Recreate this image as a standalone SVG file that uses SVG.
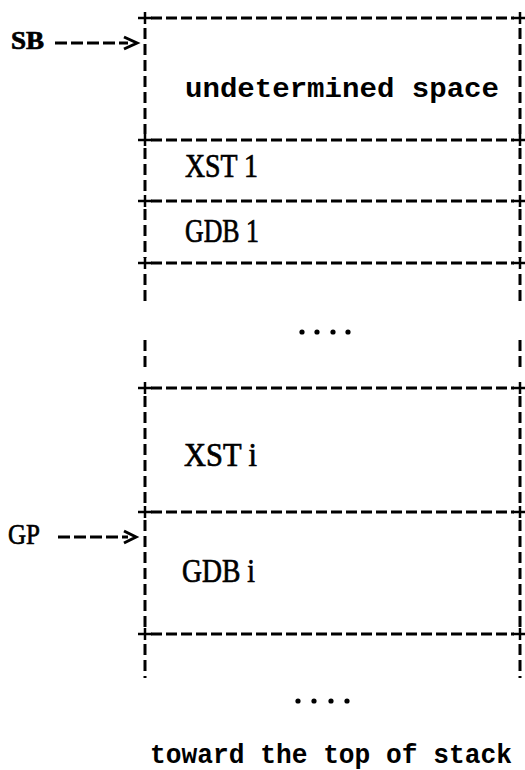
<svg xmlns="http://www.w3.org/2000/svg" width="525" height="770" viewBox="0 0 525 770">
<style>
.h{stroke:#000;stroke-width:3;stroke-dasharray:11 4;fill:none}
.v{stroke:#000;stroke-width:3;stroke-dasharray:11 5;fill:none}
.p{stroke:#000;stroke-width:2.5;fill:none}
.lbl{font-family:"Liberation Serif",serif;fill:#000;stroke:#000;stroke-width:0.7}
.mono{font-family:"Liberation Mono",monospace;font-weight:bold;fill:#000}
</style>
<rect width="525" height="770" fill="#fff"/>
<g id="frame">
<path class="h" d="M151 18H514M151 140H514M151 201H514M151 263H514M151 388H514M151 512H514M151 634H514"/>
<path class="p" d="M138 18H152M145 12V24M513 18H526M520 12V24M138 140H152M145 134V146M513 140H526M520 134V146M138 201H152M145 195V207M513 201H526M520 195V207M138 263H152M145 257V269M513 263H526M520 257V269M138 388H152M145 382V394M513 388H526M520 382V394M138 512H152M145 506V518M513 512H526M520 506V518M138 634H152M145 628V640M513 634H526M520 628V640"/>
<path class="v" d="M145 28V134M520 28V134M145 148V196M520 148V196M145 209V258M520 209V258M145 274V306M520 274V306M145 340V372M520 340V372M145 396V506M520 396V506M145 520V628M520 520V628M145 644V678M520 644V678"/>
</g>
<g id="undetermined">
<text class="mono" x="185" y="97" font-size="27" textLength="314" lengthAdjust="spacingAndGlyphs">undetermined space</text>
</g>
<g id="xst1"><text class="lbl" x="185" y="177" font-size="33" textLength="73" lengthAdjust="spacingAndGlyphs">XST 1</text></g>
<g id="gdb1"><text class="lbl" x="185" y="242" font-size="33" textLength="74" lengthAdjust="spacingAndGlyphs">GDB 1</text></g>
<g id="dots1">
<circle cx="302" cy="332" r="2.6"/><circle cx="317" cy="332" r="2.6"/><circle cx="333" cy="332" r="2.6"/><circle cx="348" cy="332" r="2.6"/>
</g>
<g id="xsti"><text class="lbl" x="184" y="466" font-size="33" textLength="73" lengthAdjust="spacingAndGlyphs">XST i</text></g>
<g id="gdbi"><text class="lbl" x="182" y="582" font-size="33" textLength="73" lengthAdjust="spacingAndGlyphs">GDB i</text></g>
<g id="dots2">
<circle cx="298" cy="701" r="2.6"/><circle cx="314" cy="701" r="2.6"/><circle cx="331" cy="701" r="2.6"/><circle cx="347" cy="701" r="2.6"/>
</g>
<g id="toward">
<text class="mono" x="150" y="763" font-size="27" textLength="362" lengthAdjust="spacingAndGlyphs">toward the top of stack</text>
</g>
<g id="sb"><text class="lbl" x="11" y="49" font-size="25" font-weight="bold" textLength="33" lengthAdjust="spacingAndGlyphs">SB</text></g>
<g id="gp"><text class="lbl" x="8" y="544" font-size="30" textLength="32" lengthAdjust="spacingAndGlyphs">GP</text></g>
<g id="connectors">
<path class="h" d="M55 43H128" style="stroke-dasharray:12 4"/>
<path class="p" d="M124 37L137 43L124 49" style="stroke-width:3"/>
<path class="h" d="M58 537H128" style="stroke-dasharray:12 4"/>
<path class="p" d="M124 531L136 537L124 543" style="stroke-width:3"/>
</g>
</svg>
